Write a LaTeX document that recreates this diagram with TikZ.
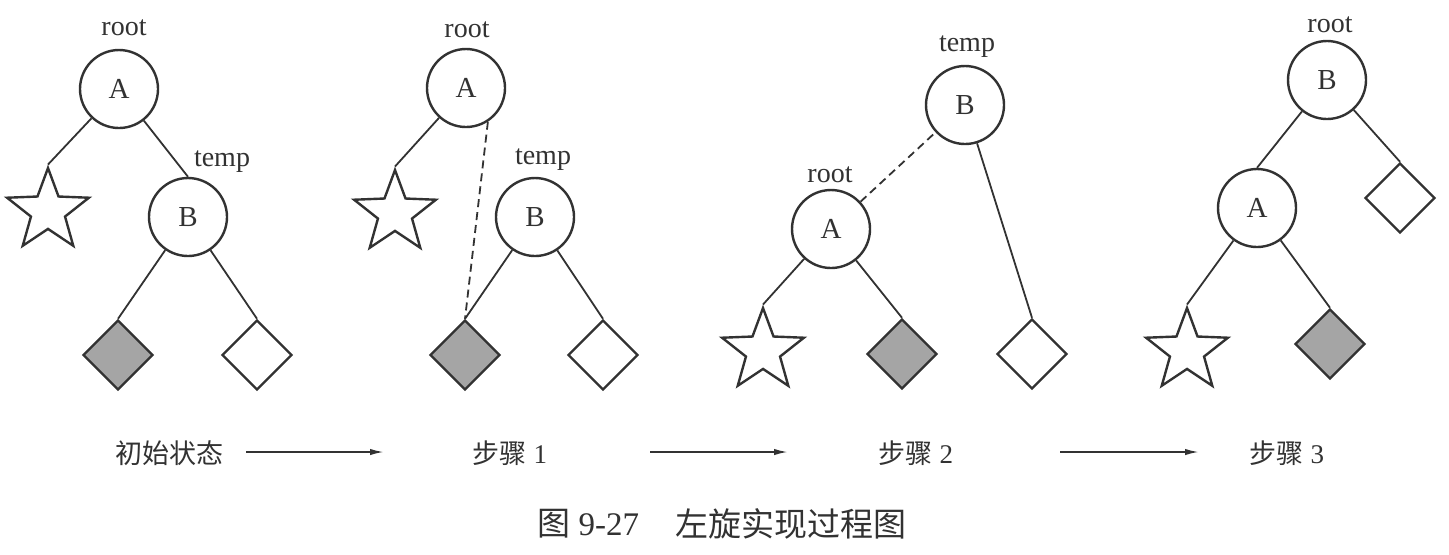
\documentclass[tikz,border=0pt]{standalone}
\usepackage{fontspec}
\setmainfont{Liberation Serif}
\newfontfamily\cjk{Noto Sans CJK SC}
\usetikzlibrary{shapes.geometric,arrows.meta}
\definecolor{ink}{RGB}{50,50,50}
\definecolor{shade}{RGB}{165,165,165}
\begin{document}
\begin{tikzpicture}[x=0.5pt,y=-0.5pt,
  every node/.style={text=ink},
  tnode/.style={circle,draw=ink,line width=1.2pt,minimum size=39pt,inner sep=0pt,font=\fontsize{14.5pt}{16pt}\selectfont},
  starnode/.style={star,star points=5,star point ratio=2.4,draw=ink,line width=1.2pt,minimum size=43pt,inner sep=0pt},
  dia/.style={diamond,draw=ink,line width=1.2pt,minimum width=35pt,minimum height=35pt,inner sep=0pt},
  dark/.style={dia,fill=shade},
  tag/.style={font=\fontsize{14pt}{16pt}\selectfont,inner sep=0pt},
  edge/.style={draw=ink,line width=0.9pt},
  dedge/.style={edge,dash pattern=on 4pt off 2.5pt},
  steplabel/.style={font=\fontsize{13.5pt}{16pt}\selectfont,inner sep=0pt},
  flow/.style={draw=ink,line width=0.9pt,-{Latex[length=7pt,width=3.2pt]}}
]
\useasboundingbox (0,0) rectangle (1449,554);

% ---- Tree 1: initial state
\node[tnode] (A1) at (119,89) {A};
\node[tnode] (B1) at (188,217) {B};
\node[starnode] (S1) at (48,211) {};
\node[dark] (D1) at (118,355) {};
\node[dia] (W1) at (257,355) {};
\node[tag] (r1) at (124,28) {root};
\node[tag] (t1) at (222,162) {temp};
\draw[edge] (A1) -- (S1.north);
\draw[edge] (A1) -- (B1.north);
\draw[edge] (B1) -- (D1.north);
\draw[edge] (B1) -- (W1.north);

% ---- Tree 2: step 1
\node[tnode] (A2) at (466,88) {A};
\node[tnode] (B2) at (535,217) {B};
\node[starnode] (S2) at (395,213) {};
\node[dark] (D2) at (465,355) {};
\node[dia] (W2) at (603,355) {};
\node[tag] (r2) at (467,30) {root};
\node[tag] (t2) at (543,160) {temp};
\draw[edge] (A2) -- (S2.north);
\draw[dedge] (A2.-57) -- (D2.north);
\draw[edge] (B2) -- (D2.north);
\draw[edge] (B2) -- (W2.north);

% ---- Tree 3: step 2
\node[tnode] (B3) at (965,105) {B};
\node[tnode] (A3) at (831,229) {A};
\node[starnode] (S3) at (763,351) {};
\node[dark] (D3) at (902,354) {};
\node[dia] (W3) at (1032,354) {};
\node[tag] (t3) at (967,47) {temp};
\node[tag] (r3) at (830,175) {root};
\draw[dedge] (A3) -- (B3);
\draw[edge] (B3) -- (W3.north);
\draw[edge] (A3) -- (S3.north);
\draw[edge] (A3) -- (D3.north);

% ---- Tree 4: step 3
\node[tnode] (B4) at (1327,80) {B};
\node[tnode] (A4) at (1257,208) {A};
\node[starnode] (S4) at (1187,351) {};
\node[dark] (D4) at (1330,344) {};
\node[dia] (W4) at (1400,198) {};
\node[tag] (r4) at (1330,25) {root};
\draw[edge] (B4) -- (A4.north);
\draw[edge] (B4) -- (W4.north);
\draw[edge] (A4) -- (S4.north);
\draw[edge] (A4) -- (D4.north);

% ---- step labels and arrows
\node[steplabel] (L0) at (169,453) {\cjk 初始状态};
\node[steplabel] (L1) at (510,453) {{\cjk 步骤} 1};
\node[steplabel] (L2) at (916,453) {{\cjk 步骤} 2};
\node[steplabel] (L3) at (1287,453) {{\cjk 步骤} 3};
\coordinate (a1s) at (246,452); \coordinate (a1e) at (384,452);
\coordinate (a2s) at (650,452); \coordinate (a2e) at (788,452);
\coordinate (a3s) at (1060,452); \coordinate (a3e) at (1199,452);
\draw[flow] (a1s) -- (a1e);
\draw[flow] (a2s) -- (a2e);
\draw[flow] (a3s) -- (a3e);

% ---- caption
\node[anchor=west,inner sep=0pt,font=\fontsize{16.5pt}{19pt}\selectfont] (cap1) at (537,524) {{\cjk 图} 9-27};
\node[anchor=west,inner sep=0pt,font=\fontsize{16.5pt}{19pt}\selectfont] (cap2) at (675,524) {\cjk 左旋实现过程图};
\end{tikzpicture}
\end{document}
